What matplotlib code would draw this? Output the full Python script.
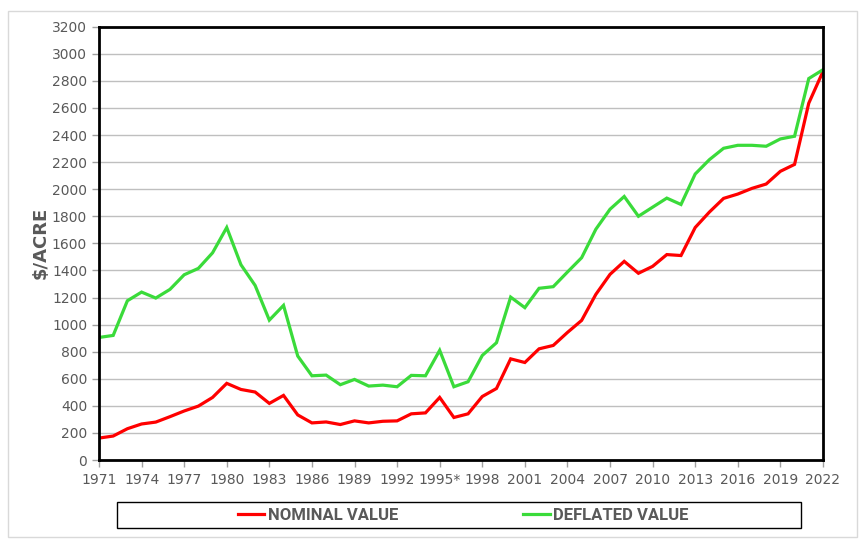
import numpy as np
import matplotlib.pyplot as plt
from matplotlib.patches import Rectangle
from matplotlib.lines import Line2D

# Land value per acre, 1971-2022
years = list(range(1971, 2023))

nominal = [162, 177, 231, 266, 280, 320, 362, 398, 462, 566,
           521, 502, 418, 477, 333, 274, 281, 262, 289, 274,
           286, 289, 341, 348, 462, 314, 341, 469, 528, 747,
           720, 821, 846, 942, 1031, 1223, 1371, 1467, 1379, 1430,
           1517, 1510, 1717, 1831, 1932, 1964, 2006, 2038, 2132, 2183,
           2635, 2869]

deflated = [905, 920, 1176, 1240, 1196, 1260, 1368, 1415, 1530, 1717,
            1442, 1289, 1033, 1142, 768, 622, 627, 556, 595, 546,
            553, 541, 625, 622, 810, 541, 578, 772, 866, 1203,
            1125, 1268, 1280, 1388, 1494, 1704, 1852, 1946, 1800, 1867,
            1934, 1887, 2112, 2218, 2302, 2324, 2324, 2317, 2371, 2391,
            2817, 2882]

tick_years = list(range(1971, 2023, 3))
tick_labels = [f"{y}*" if y == 1995 else str(y) for y in tick_years]

RED = "#FF0000"
GREEN = "#3ADB3A"
TEXT = "#595959"

fig = plt.figure(figsize=(8.66, 5.49), dpi=100)
ax = fig.add_axes([0.1143, 0.1621, 0.8360, 0.7893])

ax.plot(years, nominal, color=RED, linewidth=2.3, solid_joinstyle="miter")
ax.plot(years, deflated, color=GREEN, linewidth=2.3, solid_joinstyle="miter")

ax.set_xlim(1971, 2022)
ax.set_ylim(0, 3200)
ax.set_yticks(np.arange(0, 3201, 200))
ax.set_xticks(tick_years)
ax.set_xticklabels(tick_labels)
ax.yaxis.grid(True, color="#BFBFBF", linewidth=1)
ax.set_axisbelow(True)

for side in ["left", "bottom", "top", "right"]:
    ax.spines[side].set_color("black")
    ax.spines[side].set_linewidth(2)

ax.tick_params(axis="both", colors="#A0A0A0", labelcolor=TEXT, labelsize=10,
               length=5, width=1, direction="out")
ax.tick_params(axis="x", pad=4)

ax.set_ylabel("$/ACRE", fontsize=13, fontweight="bold", color=TEXT, labelpad=2)

# outer chart border
fig.patches.append(Rectangle((8 / 866, 12 / 549), 849 / 866, 526 / 549,
                             transform=fig.transFigure, fill=False,
                             edgecolor="#D9D9D9", linewidth=1))

# legend box
fig.patches.append(Rectangle((117 / 866, (549 - 528) / 549), 684 / 866, 26 / 549,
                             transform=fig.transFigure, fill=False,
                             edgecolor="black", linewidth=1))
handles = [Line2D([], [], color=RED, linewidth=2.3),
           Line2D([], [], color=GREEN, linewidth=2.3)]
leg = fig.legend(handles, ["NOMINAL VALUE", "DEFLATED VALUE"], ncol=2,
                 loc="center", bbox_to_anchor=(463 / 866, (549 - 515) / 549),
                 frameon=False, prop={"family": "Roboto", "weight": "bold", "size": 12},
                 handlelength=1.6, handletextpad=0.2, columnspacing=7.5)
for t in leg.get_texts():
    t.set_color(TEXT)

fig.savefig("out.png", dpi=100)
